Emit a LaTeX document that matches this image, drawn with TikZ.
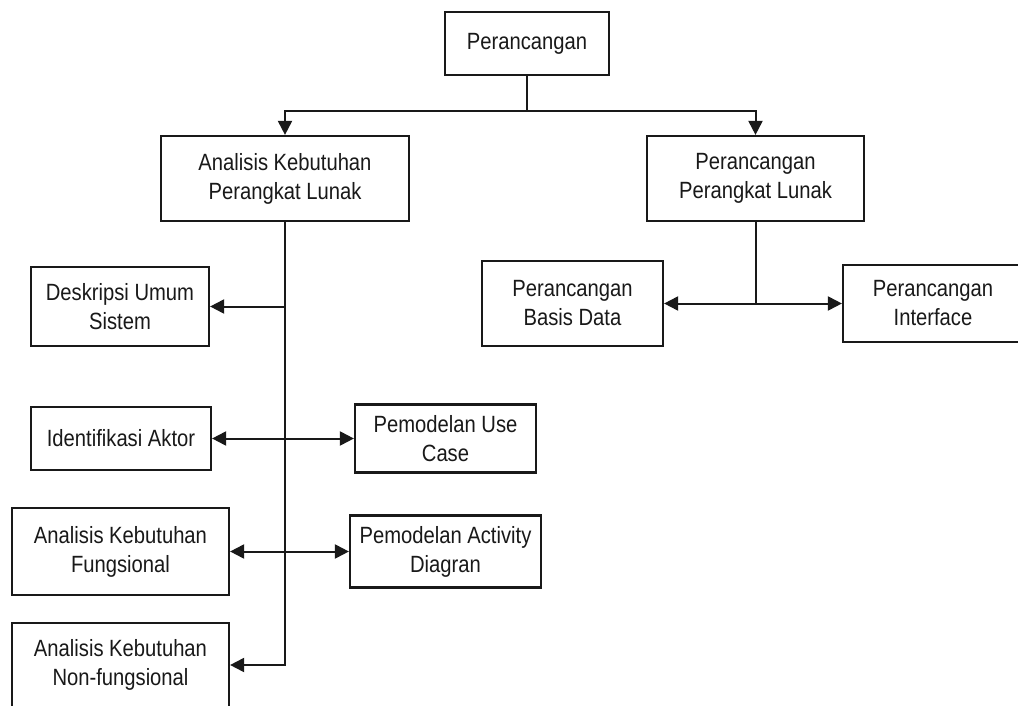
\documentclass[tikz,border=0pt]{standalone}
\usepackage{fontspec}
\setmainfont{Liberation Sans}[FakeStretch=0.86]
\usetikzlibrary{arrows.meta}
\begin{document}
\begin{tikzpicture}[x=1pt,y=-1pt,
  box/.style={draw=black!90,line width=2.2pt,rectangle,align=center,inner sep=0pt,
    font=\fontsize{23.5}{29}\selectfont,text=black!90},
  conn/.style={draw=black!90,line width=2pt},
  arr/.style={conn,-{Triangle[length=14pt,width=14pt]}},
  arrboth/.style={conn,{Triangle[length=14pt,width=14pt]}-{Triangle[length=14pt,width=14pt]}}]
\clip (0,0) rectangle (1018,706);
\fill[white] (0,0) rectangle (1018,706);
% nodes
\node[box,minimum width=164pt,minimum height=63pt] (top) at (527,43.5) {Perancangan};
\node[box,minimum width=248pt,minimum height=85pt] (akpl) at (285,178.5) {Analisis Kebutuhan\\Perangkat Lunak};
\node[box,minimum width=217pt,minimum height=85pt] (ppl) at (755.5,178.5) {Perancangan\\Perangkat Lunak};
\node[box,minimum width=178pt,minimum height=79pt] (desk) at (120,306.5) {Deskripsi Umum\\Sistem};
\node[box,minimum width=180pt,minimum height=63pt] (ident) at (121,438.5) {Identifikasi Aktor};
\node[box,minimum width=181pt,minimum height=68pt] (usecase) at (445.5,438.5) {Pemodelan Use\\Case};
\node[box,minimum width=217pt,minimum height=87pt] (fung) at (120.5,551.5) {Analisis Kebutuhan\\Fungsional};
\node[box,minimum width=191pt,minimum height=72pt] (activity) at (445.5,551.5) {Pemodelan Activity\\Diagran};
\node[box,minimum width=217pt,minimum height=84pt] (nonf) at (120.5,665) {Analisis Kebutuhan\\Non-fungsional};
\node[box,minimum width=181pt,minimum height=85pt] (basis) at (572.5,303.5) {Perancangan\\Basis Data};
\node[box,minimum width=180pt,minimum height=77pt] (iface) at (933,303.5) {Perancangan\\Interface};
% junctions
\coordinate (j1) at (527,111);
\coordinate (jd) at (akpl.south |- desk.east);
\coordinate (jp) at (ppl.south |- basis.east);
% connectors
\draw[conn] (top.south) -- (j1);
\draw[arr] (j1) -| (akpl.north);
\draw[arr] (j1) -| (ppl.north);
\draw[arr] (akpl.south) |- (nonf.east);
\draw[arr] (jd) -- (desk.east);
\draw[arrboth] (ident.east) -- (usecase.west);
\draw[arrboth] (fung.east) -- (activity.west);
\draw[conn] (ppl.south) -- (jp);
\draw[arrboth] (basis.east) -- (iface.west);
\end{tikzpicture}
\end{document}
